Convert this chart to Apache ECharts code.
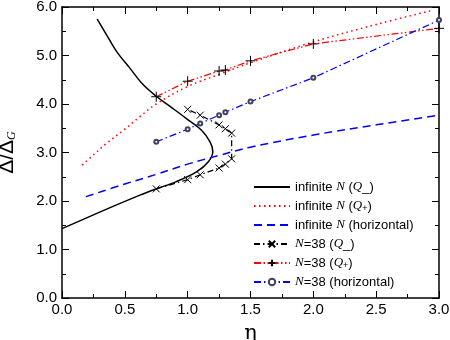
<!DOCTYPE html>
<html>
<head>
<meta charset="utf-8">
<script src="https://cdn.jsdelivr.net/npm/echarts@6/dist/echarts.min.js"></script>
<style>
  html, body { margin: 0; padding: 0; background: #fff; }
  #chart { width: 450px; height: 340px; }
</style>
</head>
<body>
<div id="chart"></div>
<script>
// [eta, Delta/Delta_G] pairs
const infQminus = [
  [0.00, 1.43], [0.30, 1.77], [0.62, 2.12], [0.75, 2.25], [0.91, 2.40],
  [1.07, 2.60], [1.165, 2.81], [1.20, 3.02], [1.178, 3.22], [1.11, 3.46],
  [0.99, 3.70], [0.86, 3.95], [0.75, 4.16], [0.645, 4.40], [0.54, 4.74],
  [0.435, 5.08], [0.356, 5.42], [0.28, 5.75]
];
const infQplus = [
  [0.16, 2.74], [0.22, 2.88], [0.35, 3.18], [0.49, 3.46], [0.62, 3.74],
  [0.75, 4.00], [1.00, 4.36], [1.25, 4.61], [1.50, 4.85], [2.00, 5.28],
  [2.50, 5.64], [2.93, 5.92]
];
const infHoriz = [
  [0.19, 2.09], [0.50, 2.35], [0.75, 2.55], [1.00, 2.76], [1.25, 2.94],
  [1.50, 3.11], [2.00, 3.36], [2.50, 3.57], [3.00, 3.77]
];
const n38Qminus = [
  [0.75, 2.25], [1.00, 2.44], [1.10, 2.54], [1.25, 2.68], [1.30, 2.76],
  [1.35, 2.87], [1.35, 3.40], [1.30, 3.49], [1.25, 3.57], [1.10, 3.77],
  [1.00, 3.89]
];
const n38Qplus = [
  [0.75, 4.15], [1.00, 4.47], [1.25, 4.68], [1.30, 4.70], [1.50, 4.89],
  [2.00, 5.24], [3.00, 5.56]
];
const n38Horiz = [
  [0.75, 3.22], [1.00, 3.48], [1.10, 3.60], [1.25, 3.77], [1.30, 3.83],
  [1.50, 4.05], [2.00, 4.54], [3.00, 5.73]
];

const seriesNames = [
  'infinite N (Q-)', 'infinite N (Q+)', 'infinite N (horizontal)',
  'N=38 (Q-)', 'N=38 (Q+)', 'N=38 (horizontal)'
];
const legendLabels = {
  'infinite N (Q-)': '{t|infinite }{i|N}{t| (}{i|Q}{t|_)}',
  'infinite N (Q+)': '{t|infinite }{i|N}{t| (}{i|Q}{s|+}{t|)}',
  'infinite N (horizontal)': '{t|infinite }{i|N}{t| (horizontal)}',
  'N=38 (Q-)': '{i|N}{t|=38 (}{i|Q}{t|_)}',
  'N=38 (Q+)': '{i|N}{t|=38 (}{i|Q}{s|+}{t|)}',
  'N=38 (horizontal)': '{i|N}{t|=38 (horizontal)}'
};

const crossPath = 'path://M0,0L10,10M10,0L0,10';
const plusPath = 'path://M5,0L5,10M0,5L10,5';

const chart = echarts.init(document.getElementById('chart'));

const tickStyle = { color: '#000', width: 1 };
const baseX = {
  type: 'value', min: 0, max: 3, interval: 0.5,
  axisLine: { onZero: false, lineStyle: { color: '#000', width: 1.5 } },
  axisTick: { inside: true, length: 7, lineStyle: tickStyle },
  minorTick: { show: true, splitNumber: 2, length: 4, lineStyle: tickStyle },
  splitLine: { show: false }
};
const baseY = {
  type: 'value', min: 0, max: 6, interval: 1,
  axisLine: { onZero: false, lineStyle: { color: '#000', width: 1.5 } },
  axisTick: { inside: true, length: 7, lineStyle: tickStyle },
  minorTick: { show: true, splitNumber: 2, length: 4, lineStyle: tickStyle },
  splitLine: { show: false }
};

const option = {
  animation: false,
  backgroundColor: '#fff',
  grid: { left: 62, right: 11, top: 7, bottom: 42, outerBoundsMode: 'none', containLabel: false },
  legend: {
    orient: 'vertical',
    left: 248,
    top: 175,
    itemWidth: 36,
    itemHeight: 8,
    itemGap: 5,
    data: seriesNames.map((name, i) => i < 3
      ? { name: name, itemStyle: { opacity: 0 } }
      : { name: name }),
    formatter: name => legendLabels[name],
    textStyle: {
      color: '#000',
      fontSize: 13,
      lineHeight: 14,
      fontFamily: 'Liberation Sans',
      rich: {
        t: { fontSize: 13, fontFamily: 'Liberation Sans', color: '#000' },
        i: { fontSize: 13, fontFamily: 'Liberation Serif', fontStyle: 'italic', color: '#000' },
        s: { fontSize: 9, fontFamily: 'Liberation Sans', color: '#000', verticalAlign: 'bottom', padding: [6, 0, 0, 0] }
      }
    }
  },
  xAxis: [
    Object.assign({}, baseX, {
      position: 'bottom',
      axisLabel: { color: '#000', fontSize: 15, fontFamily: 'Liberation Sans', margin: 4, formatter: v => v.toFixed(1) },
      name: 'η',
      nameLocation: 'middle',
      nameGap: 25,
      nameTextStyle: { color: '#000', fontSize: 21, fontFamily: 'DejaVu Serif' }
    }),
    Object.assign({}, baseX, { position: 'top', axisLabel: { show: false } })
  ],
  yAxis: [
    Object.assign({}, baseY, {
      position: 'left',
      axisLabel: { color: '#000', fontSize: 15, fontFamily: 'Liberation Sans', margin: 5, formatter: v => v.toFixed(1) },
      name: '{a|Δ/Δ}{g|G}',
      nameLocation: 'middle',
      nameGap: 44,
      nameTextStyle: {
        rich: {
          a: { fontSize: 21, fontFamily: 'Liberation Sans', color: '#000' },
          g: { fontSize: 12, fontFamily: 'Liberation Serif', fontStyle: 'italic', color: '#000', verticalAlign: 'bottom', padding: [8, 0, 0, 0] }
        }
      }
    }),
    Object.assign({}, baseY, { position: 'right', axisLabel: { show: false } })
  ],
  series: [
    {
      name: seriesNames[0], type: 'line', data: infQminus, smooth: 0.35,
      showSymbol: false, symbol: 'none',
      lineStyle: { color: '#000', width: 1.5, type: 'solid' },
      itemStyle: { color: '#000' }
    },
    {
      name: seriesNames[1], type: 'line', data: infQplus, smooth: 0.4,
      showSymbol: false, symbol: 'none',
      lineStyle: { color: '#ff0000', width: 1.5, type: [1.5, 3.5] },
      itemStyle: { color: '#ff0000' }
    },
    {
      name: seriesNames[2], type: 'line', data: infHoriz, smooth: 0.4,
      showSymbol: false, symbol: 'none',
      lineStyle: { color: '#0000ff', width: 1.5, type: [8, 5] },
      itemStyle: { color: '#0000ff' }
    },
    {
      name: seriesNames[3], type: 'line', data: n38Qminus,
      symbol: crossPath, symbolSize: 7,
      lineStyle: { color: '#000', width: 1.2, type: [6, 3, 1.5, 3] },
      itemStyle: { color: '#000', borderColor: '#000', borderWidth: 1 }
    },
    {
      name: seriesNames[4], type: 'line', data: n38Qplus,
      symbol: plusPath, symbolSize: 10,
      lineStyle: { color: '#ff0000', width: 1.2, type: [7, 2.5, 1.5, 2.5, 1.5, 2.5] },
      itemStyle: { color: '#000', borderColor: '#000', borderWidth: 1 }
    },
    {
      name: seriesNames[5], type: 'line', data: n38Horiz,
      symbol: 'emptyCircle', symbolSize: 4,
      lineStyle: { color: '#0000ff', width: 1.2, type: [7, 3, 1.5, 3] },
      itemStyle: { color: '#404060', borderWidth: 1 }
    }
  ]
};

chart.setOption(option);
</script>
</body>
</html>
